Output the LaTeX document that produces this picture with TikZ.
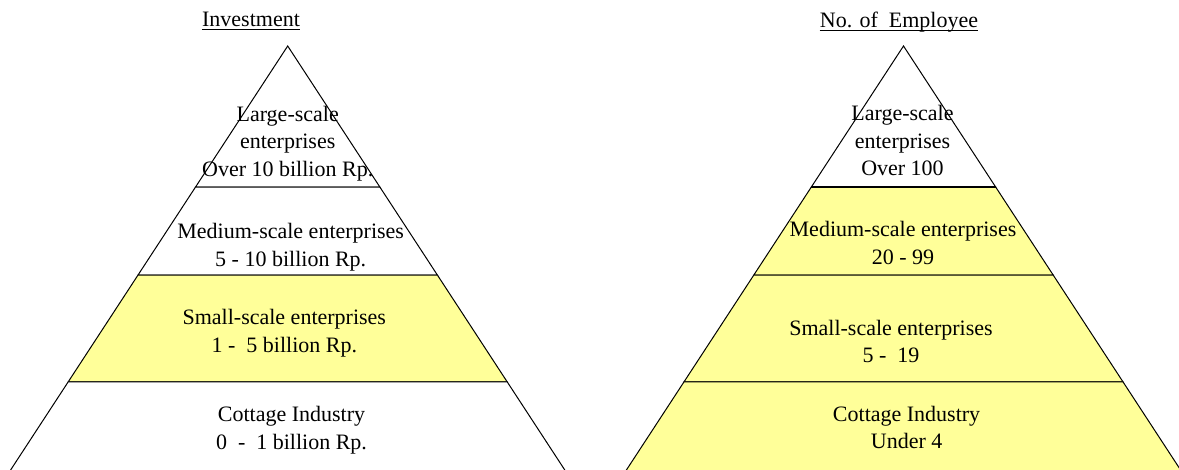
\documentclass[tikz,border=0pt]{standalone}
\usepackage{fontspec}
\setmainfont{Liberation Serif}
\usetikzlibrary{calc}
\definecolor{bandyellow}{RGB}{255,255,153}
\begin{document}
\begin{tikzpicture}[x=1pt,y=-1pt,
  band/.style={draw=black, line width=1pt, line join=miter},
  hi/.style={band, fill=bandyellow},
  lo/.style={band, fill=white},
  lbl/.style={anchor=base, inner sep=0pt, font=\fontsize{22}{27.5}\selectfont},
  uline/.style={line width=1pt},
]
\useasboundingbox (0,0) rectangle (1179,470);

% ---- left pyramid: investment ----
\coordinate (LA) at (287.7,46);
\coordinate (LL) at (9.3,472);
\coordinate (LR) at (566.1,472);
\coordinate (L1l) at ($(LA)!0.331!(LL)$);
\coordinate (L1r) at ($(LA)!0.331!(LR)$);
\coordinate (L2l) at ($(LA)!0.5376!(LL)$);
\coordinate (L2r) at ($(LA)!0.5376!(LR)$);
\coordinate (L3l) at ($(LA)!0.7887!(LL)$);
\coordinate (L3r) at ($(LA)!0.7887!(LR)$);

\draw[lo] (LA) -- (L1r) -- (L1l) -- cycle;
\draw[lo] (L1l) -- (L1r) -- (L2r) -- (L2l) -- cycle;
\draw[hi] (L2l) -- (L2r) -- (L3r) -- (L3l) -- cycle;
\draw[lo] (L3l) -- (L3r) -- (LR) -- (LL) -- cycle;

% ---- right pyramid: number of employees ----
\coordinate (RA) at (903.5,46);
\coordinate (RL) at (625.1,472);
\coordinate (RR) at (1181.9,472);
\coordinate (R1l) at ($(RA)!0.331!(RL)$);
\coordinate (R1r) at ($(RA)!0.331!(RR)$);
\coordinate (R2l) at ($(RA)!0.5376!(RL)$);
\coordinate (R2r) at ($(RA)!0.5376!(RR)$);
\coordinate (R3l) at ($(RA)!0.7887!(RL)$);
\coordinate (R3r) at ($(RA)!0.7887!(RR)$);

\draw[lo] (RA) -- (R1r) -- (R1l) -- cycle;
\draw[hi] (R1l) -- (R1r) -- (R2r) -- (R2l) -- cycle;
\draw[hi] (R2l) -- (R2r) -- (R3r) -- (R3l) -- cycle;
\draw[hi] (R3l) -- (R3r) -- (RR) -- (RL) -- cycle;
\draw[line width=1.8pt] (R1l) -- (R1r);

% ---- titles ----
\node[lbl] (tinv) at (251,27) {Investment};
\draw[uline] ([yshift=-3pt]tinv.base west) -- ([yshift=-3pt]tinv.base east);
\node[lbl] (temp) at (899,27.5) {No. of\ \ Employee};
\draw[uline] ([yshift=-3pt]temp.base west) -- ([yshift=-3pt]temp.base east);

% ---- left labels ----
\node[lbl] (la1) at (287.7,121.5) {Large-scale};
\node[lbl] (la2) at (287.7,148.5) {enterprises};
\node[lbl] (la3) at (287.7,176.5) {Over 10 billion Rp.};
\node[lbl] (lb1) at (290.7,238.3) {Medium-scale enterprises};
\node[lbl] (lb2) at (290.7,266.5) {5 - 10 billion Rp.};
\node[lbl] (lc1) at (284.3,325) {Small-scale enterprises};
\node[lbl] (lc2) at (284.3,353) {1 -\ \ 5 billion Rp.};
\node[lbl] (ld1) at (291.5,421.7) {Cottage Industry};
\node[lbl] (ld2) at (291.5,449.3) {0\ \ -\ \ 1 billion Rp.};

% ---- right labels ----
\node[lbl] (ra1) at (902.5,121) {Large-scale};
\node[lbl] (ra2) at (902.5,148.3) {enterprises};
\node[lbl] (ra3) at (902.5,176) {Over 100};
\node[lbl] (rb1) at (903,236.7) {Medium-scale enterprises};
\node[lbl] (rb2) at (903,264.3) {20 - 99};
\node[lbl] (rc1) at (891,335.3) {Small-scale enterprises};
\node[lbl] (rc2) at (891,362.7) {5 -\ \ 19};
\node[lbl] (rd1) at (906.6,421.7) {Cottage Industry};
\node[lbl] (rd2) at (906.6,448.3) {Under 4};
\end{tikzpicture}
\end{document}
